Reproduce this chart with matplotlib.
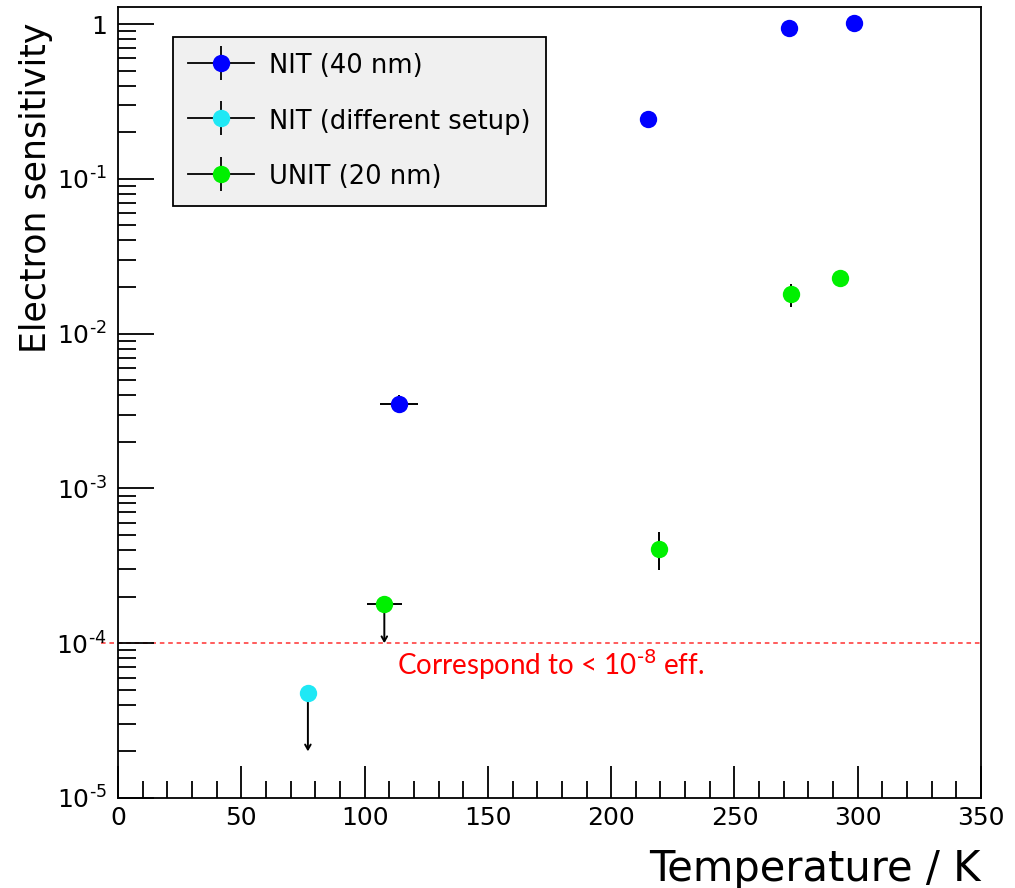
import numpy as np
import matplotlib
matplotlib.use("Agg")
import matplotlib.pyplot as plt
from matplotlib.lines import Line2D
from matplotlib.ticker import LogLocator, FuncFormatter, MultipleLocator

plt.rcParams['font.family'] = ['DejaVu Sans']

# NIT (40 nm)
nit_T = [114, 215, 272, 298.5]
nit_Terr = [7.7, 0, 0, 0]
nit_S = [3.5e-3, 0.243, 0.94, 1.01]
nit_Slo = [0.45e-3, 0, 0, 0]
nit_Shi = [0.5e-3, 0, 0, 0]

# NIT (different setup), upper limit
nit2_T = [77]
nit2_S = [4.8e-5]
nit2_lim = [2.0e-5]

# UNIT (20 nm)
unit_T = [219.5, 273, 292.8]
unit_S = [4.05e-4, 0.018, 0.023]
unit_Slo = [1.1e-4, 0.0031, 0]
unit_Shi = [1.15e-4, 0.003, 0]
# UNIT upper limit point
unit_lim_T = [108]
unit_lim_Terr = [7.0]
unit_lim_S = [1.8e-4]
unit_lim_to = [1.0e-4]

threshold = 1e-4

labels = ["NIT (40 nm)", "NIT (different setup)", "UNIT (20 nm)"]
colors = ["#0000ff", "#1fe8f5", "#00f000"]

fig = plt.figure(figsize=(10.15, 8.88), dpi=100)
ax = fig.add_axes([0.1163, 0.1014, 0.8502, 0.8907])

ms = 12.5
ebkw = dict(fmt='o', ecolor='black', elinewidth=1.4, capsize=3.5, capthick=1.4,
            markeredgewidth=0, markersize=ms)

eb1 = ax.errorbar(nit_T, nit_S, xerr=nit_Terr, yerr=[nit_Slo, nit_Shi], color=colors[0], **ebkw)
eb2 = ax.errorbar(unit_T, unit_S, yerr=[unit_Slo, unit_Shi], color=colors[2], **ebkw)
ax.errorbar(nit2_T, nit2_S, color=colors[1], **ebkw)
eb3 = ax.errorbar(unit_lim_T, unit_lim_S, xerr=unit_lim_Terr, color=colors[2], **ebkw)
for eb in (eb1, eb2, eb3):
    for cl in eb[1]:
        cl.set_zorder(3)

# upper limits: arrows pointing down
for T, S, L in zip(nit2_T + unit_lim_T, nit2_S + unit_lim_S, nit2_lim + unit_lim_to):
    ax.annotate("", xy=(T, L), xytext=(T, S),
                arrowprops=dict(arrowstyle='->,head_length=0.35,head_width=0.2',
                                color='black', lw=1.4, shrinkA=0, shrinkB=0),
                zorder=1.5)

ax.axhline(threshold, xmin=-0.02, color='#ff3030', lw=1.1, ls=(0, (3, 2.5)),
           zorder=1, clip_on=False)
ax.text(0.3233, 0.1555, r"Correspond to < 10$^{\text{-8}}$ eff.", transform=ax.transAxes,
        color='red', fontsize=20, family=['Lato', 'DejaVu Sans'])

ax.set_yscale('log')
ax.set_xlim(0, 350)
ax.set_ylim(1e-5, 1.29)

ax.xaxis.set_major_locator(MultipleLocator(50))
ax.xaxis.set_minor_locator(MultipleLocator(10))
ax.yaxis.set_major_locator(LogLocator(base=10, numticks=10))
ax.yaxis.set_minor_locator(LogLocator(base=10, subs=np.arange(2, 10), numticks=20))


def ylab(v, pos):
    e = int(round(np.log10(v)))
    if e == 0:
        return "1"
    return r"10$^{\text{%d}}$" % e


ax.yaxis.set_major_formatter(FuncFormatter(ylab))
ax.yaxis.set_minor_formatter(FuncFormatter(lambda v, p: ""))

ax.tick_params(which='both', direction='in', top=False, right=False, width=1.3,
               labelsize=18, colors='black')
ax.tick_params(axis='x', which='major', length=23, pad=6)
ax.tick_params(axis='x', which='minor', length=12)
ax.tick_params(axis='y', which='major', length=26, pad=8)
ax.tick_params(axis='y', which='minor', length=13)
for s in ax.spines.values():
    s.set_linewidth(1.3)

ax.set_xlabel("Temperature / K", fontsize=30, loc='right')
ax.set_ylabel("Electron sensitivity", fontsize=25, loc='top')
ax.yaxis.set_label_coords(-0.075, 0.98)
ax.xaxis.set_label_coords(1.0, -0.063)

handles = []
for c in colors:
    handles.append((Line2D([], [], color='k', lw=1.3),
                    Line2D([], [], ls='', marker='|', ms=25, mew=1.3, color='k'),
                    Line2D([], [], ls='', marker='o', ms=ms, mew=0, color=c)))
leg = ax.legend(handles, labels, loc='upper left', bbox_to_anchor=(0.0637, 0.962),
                borderaxespad=0, fontsize=18.5, frameon=True, fancybox=False,
                facecolor='#f0f0f0', edgecolor='black', framealpha=1,
                handlelength=2.55, handleheight=1.0, labelspacing=1.15,
                borderpad=0.6, handletextpad=0.6)
leg.get_frame().set_linewidth(1.3)

fig.savefig("out.png", dpi=100)
